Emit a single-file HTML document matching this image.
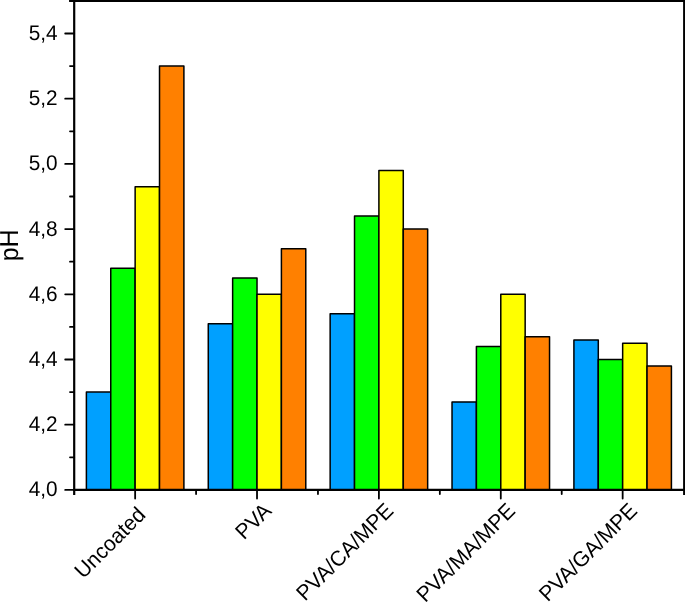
<!DOCTYPE html>
<html><head><meta charset="utf-8"><style>
html,body{margin:0;padding:0;background:#fff;}
svg{display:block;will-change:transform;}
text{font-family:"Liberation Sans",sans-serif;text-rendering:geometricPrecision;font-size:20.8px;fill:#000;}
</style></head><body>
<svg width="685" height="602" viewBox="0 0 685 602">
<rect x="0" y="0" width="685" height="602" fill="#fff"/>
<rect x="86.39" y="392.10" width="24.38" height="97.80" fill="#00A0FF" stroke="#000" stroke-width="1.5" stroke-linejoin="round"/>
<rect x="110.76" y="268.22" width="24.38" height="221.68" fill="#00FF00" stroke="#000" stroke-width="1.5" stroke-linejoin="round"/>
<rect x="135.14" y="186.72" width="24.38" height="303.18" fill="#FFFF00" stroke="#000" stroke-width="1.5" stroke-linejoin="round"/>
<rect x="159.52" y="66.10" width="24.38" height="423.80" fill="#FF8000" stroke="#000" stroke-width="1.5" stroke-linejoin="round"/>
<rect x="208.27" y="323.64" width="24.38" height="166.26" fill="#00A0FF" stroke="#000" stroke-width="1.5" stroke-linejoin="round"/>
<rect x="232.64" y="278.00" width="24.38" height="211.90" fill="#00FF00" stroke="#000" stroke-width="1.5" stroke-linejoin="round"/>
<rect x="257.02" y="294.30" width="24.38" height="195.60" fill="#FFFF00" stroke="#000" stroke-width="1.5" stroke-linejoin="round"/>
<rect x="281.40" y="248.66" width="24.38" height="241.24" fill="#FF8000" stroke="#000" stroke-width="1.5" stroke-linejoin="round"/>
<rect x="330.15" y="313.86" width="24.38" height="176.04" fill="#00A0FF" stroke="#000" stroke-width="1.5" stroke-linejoin="round"/>
<rect x="354.52" y="216.06" width="24.38" height="273.84" fill="#00FF00" stroke="#000" stroke-width="1.5" stroke-linejoin="round"/>
<rect x="378.90" y="170.42" width="24.38" height="319.48" fill="#FFFF00" stroke="#000" stroke-width="1.5" stroke-linejoin="round"/>
<rect x="403.28" y="229.10" width="24.38" height="260.80" fill="#FF8000" stroke="#000" stroke-width="1.5" stroke-linejoin="round"/>
<rect x="452.03" y="401.88" width="24.38" height="88.02" fill="#00A0FF" stroke="#000" stroke-width="1.5" stroke-linejoin="round"/>
<rect x="476.40" y="346.46" width="24.38" height="143.44" fill="#00FF00" stroke="#000" stroke-width="1.5" stroke-linejoin="round"/>
<rect x="500.78" y="294.30" width="24.38" height="195.60" fill="#FFFF00" stroke="#000" stroke-width="1.5" stroke-linejoin="round"/>
<rect x="525.16" y="336.68" width="24.38" height="153.22" fill="#FF8000" stroke="#000" stroke-width="1.5" stroke-linejoin="round"/>
<rect x="573.91" y="339.94" width="24.38" height="149.96" fill="#00A0FF" stroke="#000" stroke-width="1.5" stroke-linejoin="round"/>
<rect x="598.28" y="359.50" width="24.38" height="130.40" fill="#00FF00" stroke="#000" stroke-width="1.5" stroke-linejoin="round"/>
<rect x="622.66" y="343.20" width="24.38" height="146.70" fill="#FFFF00" stroke="#000" stroke-width="1.5" stroke-linejoin="round"/>
<rect x="647.04" y="366.02" width="24.38" height="123.88" fill="#FF8000" stroke="#000" stroke-width="1.5" stroke-linejoin="round"/>
<line x1="74.20" y1="-0.10" x2="74.20" y2="494.90" stroke="#000" stroke-width="2.2"/>
<line x1="684.20" y1="-0.10" x2="684.20" y2="494.90" stroke="#000" stroke-width="2.2"/>
<line x1="73.10" y1="489.90" x2="685.30" y2="489.90" stroke="#000" stroke-width="2.2"/>
<line x1="69.20" y1="0.90" x2="685.30" y2="0.90" stroke="#000" stroke-width="2.2"/>
<line x1="65.20" y1="489.90" x2="74.20" y2="489.90" stroke="#000" stroke-width="1.8" stroke-linecap="round"/>
<text x="0" y="0" text-anchor="end" transform="translate(57.7,496.30) scale(1,1.02)">4,0</text>
<line x1="70.00" y1="457.30" x2="74.20" y2="457.30" stroke="#000" stroke-width="1.8" stroke-linecap="round"/>
<line x1="65.20" y1="424.70" x2="74.20" y2="424.70" stroke="#000" stroke-width="1.8" stroke-linecap="round"/>
<text x="0" y="0" text-anchor="end" transform="translate(57.7,431.10) scale(1,1.02)">4,2</text>
<line x1="70.00" y1="392.10" x2="74.20" y2="392.10" stroke="#000" stroke-width="1.8" stroke-linecap="round"/>
<line x1="65.20" y1="359.50" x2="74.20" y2="359.50" stroke="#000" stroke-width="1.8" stroke-linecap="round"/>
<text x="0" y="0" text-anchor="end" transform="translate(57.7,365.90) scale(1,1.02)">4,4</text>
<line x1="70.00" y1="326.90" x2="74.20" y2="326.90" stroke="#000" stroke-width="1.8" stroke-linecap="round"/>
<line x1="65.20" y1="294.30" x2="74.20" y2="294.30" stroke="#000" stroke-width="1.8" stroke-linecap="round"/>
<text x="0" y="0" text-anchor="end" transform="translate(57.7,300.70) scale(1,1.02)">4,6</text>
<line x1="70.00" y1="261.70" x2="74.20" y2="261.70" stroke="#000" stroke-width="1.8" stroke-linecap="round"/>
<line x1="65.20" y1="229.10" x2="74.20" y2="229.10" stroke="#000" stroke-width="1.8" stroke-linecap="round"/>
<text x="0" y="0" text-anchor="end" transform="translate(57.7,235.50) scale(1,1.02)">4,8</text>
<line x1="70.00" y1="196.50" x2="74.20" y2="196.50" stroke="#000" stroke-width="1.8" stroke-linecap="round"/>
<line x1="65.20" y1="163.90" x2="74.20" y2="163.90" stroke="#000" stroke-width="1.8" stroke-linecap="round"/>
<text x="0" y="0" text-anchor="end" transform="translate(57.7,170.30) scale(1,1.02)">5,0</text>
<line x1="70.00" y1="131.30" x2="74.20" y2="131.30" stroke="#000" stroke-width="1.8" stroke-linecap="round"/>
<line x1="65.20" y1="98.70" x2="74.20" y2="98.70" stroke="#000" stroke-width="1.8" stroke-linecap="round"/>
<text x="0" y="0" text-anchor="end" transform="translate(57.7,105.10) scale(1,1.02)">5,2</text>
<line x1="70.00" y1="66.10" x2="74.20" y2="66.10" stroke="#000" stroke-width="1.8" stroke-linecap="round"/>
<line x1="65.20" y1="33.50" x2="74.20" y2="33.50" stroke="#000" stroke-width="1.8" stroke-linecap="round"/>
<text x="0" y="0" text-anchor="end" transform="translate(57.7,39.90) scale(1,1.02)">5,4</text>
<line x1="70.00" y1="0.90" x2="74.20" y2="0.90" stroke="#000" stroke-width="1.8" stroke-linecap="round"/>
<line x1="135.14" y1="489.90" x2="135.14" y2="498.60" stroke="#000" stroke-width="1.8" stroke-linecap="round"/>
<line x1="196.08" y1="489.90" x2="196.08" y2="494.10" stroke="#000" stroke-width="1.8" stroke-linecap="round"/>
<line x1="257.02" y1="489.90" x2="257.02" y2="498.60" stroke="#000" stroke-width="1.8" stroke-linecap="round"/>
<line x1="317.96" y1="489.90" x2="317.96" y2="494.10" stroke="#000" stroke-width="1.8" stroke-linecap="round"/>
<line x1="378.90" y1="489.90" x2="378.90" y2="498.60" stroke="#000" stroke-width="1.8" stroke-linecap="round"/>
<line x1="439.84" y1="489.90" x2="439.84" y2="494.10" stroke="#000" stroke-width="1.8" stroke-linecap="round"/>
<line x1="500.78" y1="489.90" x2="500.78" y2="498.60" stroke="#000" stroke-width="1.8" stroke-linecap="round"/>
<line x1="561.72" y1="489.90" x2="561.72" y2="494.10" stroke="#000" stroke-width="1.8" stroke-linecap="round"/>
<line x1="622.66" y1="489.90" x2="622.66" y2="498.60" stroke="#000" stroke-width="1.8" stroke-linecap="round"/>
<text x="0" y="0" text-anchor="end" style="font-size:21px" transform="translate(146.81,516.03) rotate(-45) scale(1,1.02)">Uncoated</text>
<text x="0" y="0" text-anchor="end" style="font-size:21px" transform="translate(272.72,512.00) rotate(-45) scale(1,1.02)">PVA</text>
<text x="0" y="0" text-anchor="end" style="font-size:21px" transform="translate(394.60,512.00) rotate(-45) scale(1,1.02)">PVA/CA/MPE</text>
<text x="0" y="0" text-anchor="end" style="font-size:21px" transform="translate(516.48,512.00) rotate(-45) scale(1,1.02)">PVA/MA/MPE</text>
<text x="0" y="0" text-anchor="end" style="font-size:21px" transform="translate(638.36,512.00) rotate(-45) scale(1,1.02)">PVA/GA/MPE</text>
<text x="0" y="0" text-anchor="middle" style="font-size:25px" transform="translate(18.3,245.3) rotate(-90) scale(1,1.04)">pH</text>
</svg>
</body></html>
